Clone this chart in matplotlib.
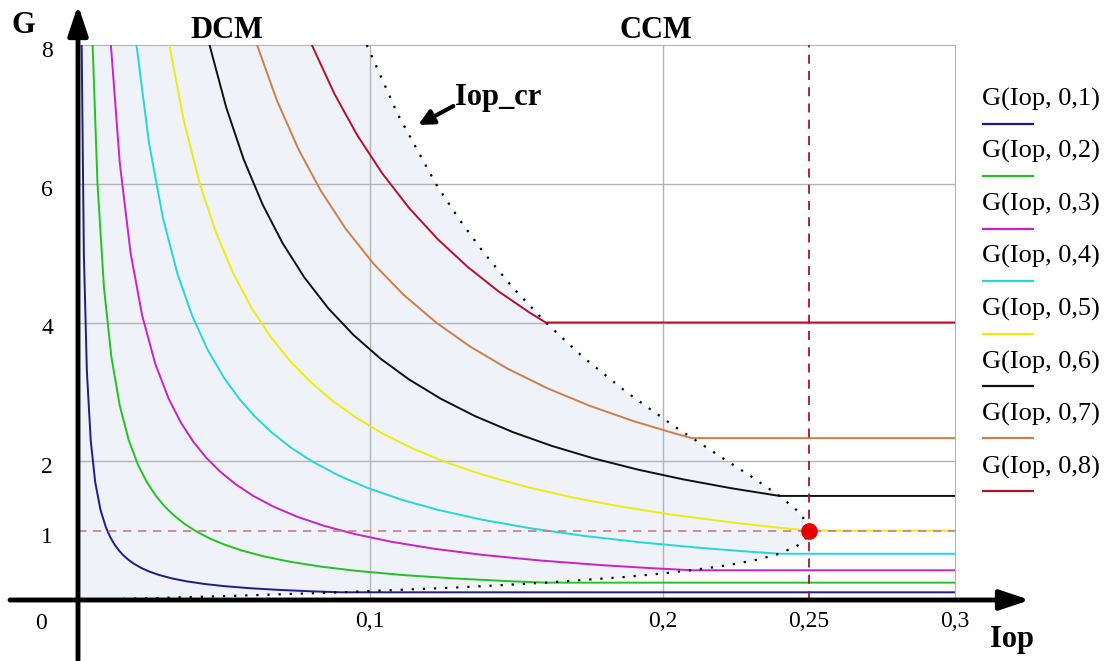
import numpy as np
import matplotlib.pyplot as plt
from matplotlib.transforms import ScaledTranslation

plt.rcParams['font.family'] = ['Liberation Serif', 'DejaVu Serif']

# legend labels (duty cycle) and colours
duty_labels = ['0,1', '0,2', '0,3', '0,4', '0,5', '0,6', '0,7', '0,8']
colors = ['#1c1c8c', '#22c322', '#c822c8', '#22d8d8', '#ecec10', '#111111', '#cd7f4a', '#b8102a']

# curves (Iop, G): DCM branch, then flat CCM part up to 0.3
iop_01 = [0.00125, 0.002, 0.00303, 0.00435, 0.00588, 0.00769, 0.00952, 0.01111, 0.0125, 0.01389,
          0.01538, 0.01724, 0.01923, 0.02174, 0.02439, 0.02778, 0.03226, 0.03704, 0.04348, 0.05,
          0.05882, 0.06897, 0.08, 0.09, 0.3]
g_01 = [8, 5, 3.3, 2.3, 1.7, 1.3, 1.05, 0.9, 0.8, 0.72, 0.65, 0.58, 0.52, 0.46, 0.41, 0.36, 0.31,
        0.27, 0.23, 0.2, 0.17, 0.145, 0.125, 0.111, 0.111]

iop_02 = [0.005, 0.00667, 0.00889, 0.01143, 0.01429, 0.01739, 0.02051, 0.02353, 0.02667, 0.02963,
          0.03279, 0.03636, 0.0404, 0.04494, 0.05, 0.05634, 0.06349, 0.07273, 0.08333, 0.09524,
          0.11111, 0.12903, 0.14815, 0.16, 0.3]
g_02 = [8, 6, 4.5, 3.5, 2.8, 2.3, 1.95, 1.7, 1.5, 1.35, 1.22, 1.1, 0.99, 0.89, 0.8, 0.71, 0.63,
        0.55, 0.48, 0.42, 0.36, 0.31, 0.27, 0.25, 0.25]

iop_03 = [0.01125, 0.01429, 0.018, 0.02195, 0.02647, 0.03103, 0.03529, 0.03947, 0.0439, 0.04865,
          0.05389, 0.06, 0.06667, 0.075, 0.08411, 0.09474, 0.10714, 0.12162, 0.13846, 0.15789,
          0.18, 0.19565, 0.21, 0.3]
g_03 = [8, 6.3, 5, 4.1, 3.4, 2.9, 2.55, 2.28, 2.05, 1.85, 1.67, 1.5, 1.35, 1.2, 1.07, 0.95, 0.84,
        0.74, 0.65, 0.57, 0.5, 0.46, 0.4286, 0.4286]

iop_04 = [0.02, 0.02424, 0.02909, 0.03404, 0.03902, 0.04444, 0.05, 0.05517, 0.06038, 0.06612,
          0.07273, 0.08, 0.08889, 0.09877, 0.11034, 0.12308, 0.13793, 0.15534, 0.17391, 0.19277,
          0.21333, 0.22857, 0.24, 0.3]
g_04 = [8, 6.6, 5.5, 4.7, 4.1, 3.6, 3.2, 2.9, 2.65, 2.42, 2.2, 2.0, 1.8, 1.62, 1.45, 1.3, 1.16,
        1.03, 0.92, 0.83, 0.75, 0.7, 0.6667, 0.6667]

iop_05 = [0.03125, 0.03623, 0.04167, 0.04717, 0.05319, 0.05952, 0.06579, 0.07246, 0.07937, 0.08681,
          0.09506, 0.10417, 0.11468, 0.12626, 0.13889, 0.15337, 0.16892, 0.18519, 0.20325, 0.22321,
          0.2381, 0.25, 0.3]
g_05 = [8, 6.9, 6.0, 5.3, 4.7, 4.2, 3.8, 3.45, 3.15, 2.88, 2.63, 2.4, 2.18, 1.98, 1.8, 1.63, 1.48,
        1.35, 1.23, 1.12, 1.05, 1, 1]

iop_06 = [0.045, 0.0507, 0.05669, 0.06316, 0.0699, 0.07742, 0.08571, 0.09424, 0.10345, 0.11321,
          0.12414, 0.13585, 0.14876, 0.16216, 0.17647, 0.19149, 0.2069, 0.2236, 0.24, 0.3]
g_06 = [8, 7.1, 6.35, 5.7, 5.15, 4.65, 4.2, 3.82, 3.48, 3.18, 2.9, 2.65, 2.42, 2.22, 2.04, 1.88,
        1.74, 1.61, 1.5, 1.5]

iop_07 = [0.06125, 0.06806, 0.07538, 0.08305, 0.09159, 0.10103, 0.11136, 0.1225, 0.13425, 0.14715,
          0.16066, 0.175, 0.18992, 0.20417, 0.21, 0.3]
g_07 = [8, 7.2, 6.5, 5.9, 5.35, 4.85, 4.4, 4.0, 3.65, 3.33, 3.05, 2.8, 2.58, 2.4, 2.333, 2.333]

iop_08 = [0.08, 0.08767, 0.09552, 0.10407, 0.11327, 0.12308, 0.13333, 0.14382, 0.15422, 0.16, 0.3]
g_08 = [8, 7.3, 6.7, 6.15, 5.65, 5.2, 4.8, 4.45, 4.15, 4, 4]

# DCM / CCM boundary (Iop_cr)
iop_cr = [0.0988, 0.1094, 0.1224, 0.1302, 0.1389, 0.1488, 0.16, 0.1728, 0.1875, 0.2041, 0.2222,
          0.2296, 0.24, 0.2457, 0.2479, 0.25, 0.2493, 0.2469, 0.24, 0.2323, 0.2222, 0.21, 0.1995,
          0.1875, 0.16, 0.1434, 0.1293, 0.09, 0.0534, 0.0283, 0]
g_cr = [8, 7, 6, 5.5, 5, 4.5, 4, 3.5, 3, 2.5, 2, 1.8, 1.5, 1.3, 1.2, 1, 0.9, 0.8, 0.667, 0.58,
        0.5, 0.43, 0.38, 0.333, 0.25, 0.21, 0.18, 0.111, 0.06, 0.03, 0]

# operating point
op_iop = 0.25
op_g = 1

curves = [(iop_01, g_01), (iop_02, g_02), (iop_03, g_03), (iop_04, g_04),
          (iop_05, g_05), (iop_06, g_06), (iop_07, g_07), (iop_08, g_08)]

fig = plt.figure(figsize=(11.12, 6.61), dpi=100)
ax = fig.add_axes([78 / 1112, 61 / 661, 877 / 1112, 555 / 661])
ax.set_xlim(0, 0.3)
ax.set_ylim(0, 8)

# shaded DCM region
ax.fill_betweenx(g_cr, 0, iop_cr, color='#f0f2f9', lw=0, zorder=0)

# grid
for v in [0.1, 0.2]:
    ax.axvline(v, color='#b4b4b4', lw=1, zorder=1)
for h in [2, 4, 6]:
    ax.axhline(h, color='#b4b4b4', lw=1, zorder=1)

for (xs, ys), c in zip(curves, colors):
    ax.plot(xs, ys, color=c, lw=1.4, zorder=3)

ax.plot(iop_cr, g_cr, color='black', lw=1.6, linestyle=(0, (1, 4)), zorder=4)

# marker lines for the operating point
ax.axhline(op_g, color='#cc7a84', lw=1.2, dashes=(5, 4), zorder=4)
ax.axvline(op_iop, color='#b0102a', lw=1.3, dashes=(5, 4), zorder=4)
ax.plot([op_iop], [op_g], 'o', color='#e80000', ms=11, zorder=6)

ax.set_xticks([0.1, 0.2, 0.25, 0.3], ['0,1', '0,2', '0,25', '0,3'])
ax.set_yticks([1, 2, 4, 6, 8], ['1', '2', '4', '6', '8'])
ax.tick_params(axis='both', length=0, labelsize=17)
ax.tick_params(axis='x', pad=8)
ax.tick_params(axis='y', pad=18)
shift = ScaledTranslation(0, -4 / 100, fig.dpi_scale_trans)
for lab in ax.get_yticklabels():
    lab.set_transform(lab.get_transform() + shift)
for s in ['top', 'right']:
    ax.spines[s].set_color('#b4b4b4')
for s in ['left', 'bottom']:
    ax.spines[s].set_visible(False)

# thick axes with arrows
arrow = dict(arrowstyle='-|>,head_length=0.9,head_width=0.3', lw=3.5, color='black',
             shrinkA=0, shrinkB=0, mutation_scale=20)
ax.annotate('', xy=(1.0855, 0), xytext=(-0.0775, 0), xycoords='axes fraction',
            arrowprops=arrow, zorder=10, annotation_clip=False)
ax.annotate('', xy=(0, 1.072), xytext=(0, -0.108), xycoords='axes fraction',
            arrowprops=arrow, zorder=10, annotation_clip=False)

ax.text(-0.035, -0.042, '0', transform=ax.transAxes, fontsize=17, ha='right', va='center')
bold = dict(fontsize=22, fontweight='bold', transform=ax.transAxes, ha='center', va='center')
ax.text(-0.062, 1.036, 'G', clip_on=False, **bold)
ax.text(1.065, -0.072, 'Iop', clip_on=False, **bold)
ax.text(0.170, 1.027, 'DCM', clip_on=False, **bold)
ax.text(0.659, 1.027, 'CCM', clip_on=False, **bold)
ax.text(0.430, 0.906, 'Iop_cr', fontsize=22, fontweight='bold', transform=ax.transAxes,
        ha='left', va='center')
ax.annotate('', xy=(0.388, 0.856), xytext=(0.428, 0.890), xycoords='axes fraction',
            arrowprops=dict(arrowstyle='-|>,head_length=0.6,head_width=0.3', lw=3,
                            color='black', shrinkA=0, shrinkB=0, mutation_scale=15))

# legend: label with a short line underneath
for i, (lab, c) in enumerate(zip(duty_labels, colors)):
    ty = (600 - 99 - 52.6 * i) / 555
    ly = (600 - 124 - 52.4 * i) / 555
    ax.text(1.031, ty, 'G(Iop, ' + lab + ')', transform=ax.transAxes, fontsize=19,
            ha='left', va='center')
    ax.plot([1.032, 1.089], [ly, ly], color=c, lw=1.6, transform=ax.transAxes, clip_on=False)

fig.savefig('out.png', dpi=100)
